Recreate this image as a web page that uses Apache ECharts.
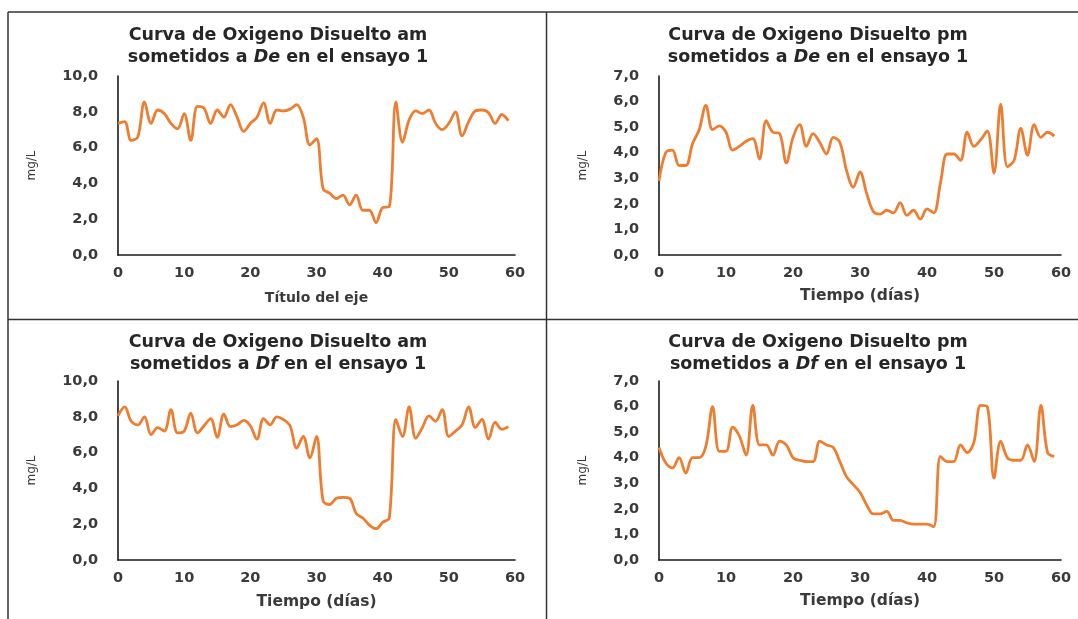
<!DOCTYPE html>
<html>
<head>
<meta charset="utf-8">
<script src="https://cdn.jsdelivr.net/npm/echarts@6/dist/echarts.min.js"></script>
<style>
html,body{margin:0;padding:0;background:#fff;}
#c{width:1078px;height:619px;}
</style>
</head>
<body>
<div id="c"></div>
<script>
// Days (x values)
const days = [0,1,2,3,4,5,6,7,8,9,10,11,12,13,14,15,16,17,18,19,20,21,22,23,24,25,26,27,28,29,
  30,31,32,33,34,35,36,37,38,39,40,41,42,43,44,45,46,47,48,49,50,51,52,53,54,55,56,57,58,59];

// am, De
const amDe = [7.35,7.45,6.4,6.6,8.55,7.35,8.1,7.9,7.35,7.05,7.9,6.4,8.3,8.2,7.35,8.1,7.7,8.4,7.7,6.9,
  7.35,7.7,8.5,7.35,8.1,8.05,8.15,8.4,7.7,6.15,6.5,3.7,3.45,3.15,3.35,2.8,3.35,2.5,2.5,1.8,
  2.65,2.7,8.55,6.3,7.55,8.05,7.9,8.1,7.35,7.0,7.35,8.0,6.65,7.45,8.05,8.1,7.95,7.35,7.85,7.5];

// pm, De
const pmDe = [2.9,4.0,4.1,3.5,3.5,4.35,4.9,5.85,4.9,5.05,4.8,4.1,4.25,4.45,4.55,3.75,5.25,4.8,4.75,3.6,
  4.6,5.1,4.25,4.75,4.4,3.95,4.6,4.4,3.3,2.65,3.25,2.4,1.7,1.6,1.75,1.65,2.05,1.55,1.75,1.4,
  1.8,1.65,2.8,3.95,3.95,3.7,4.8,4.25,4.5,4.85,3.2,5.9,3.45,3.7,4.95,3.9,5.1,4.6,4.8,4.65];

// am, Df
const amDf = [8.05,8.55,7.75,7.55,8.0,7.0,7.4,7.2,8.4,7.1,7.2,8.2,7.1,7.5,7.9,6.85,8.15,7.45,7.55,7.8,
  7.5,6.75,7.9,7.55,8.0,7.85,7.5,6.25,6.9,5.7,6.9,3.3,3.1,3.45,3.5,3.45,2.6,2.35,1.95,1.75,
  2.1,2.35,7.85,6.9,8.55,6.8,7.4,8.05,7.75,8.4,6.9,7.2,7.55,8.55,7.4,7.85,6.75,7.7,7.3,7.45];

// pm, Df
const pmDf = [4.4,3.8,3.6,4.0,3.4,4.0,4.0,4.45,6.0,4.25,4.25,5.2,4.85,4.1,6.05,4.5,4.5,4.1,4.65,4.5,
  4.0,3.9,3.85,3.85,4.65,4.5,4.4,3.85,3.25,2.95,2.65,2.15,1.8,1.8,1.9,1.55,1.55,1.45,1.4,1.4,
  1.4,1.3,4.05,3.85,3.85,4.5,4.2,4.6,6.05,6.0,3.2,4.65,4.0,3.9,3.9,4.5,3.85,6.05,4.2,4.05];

const xTicks = {min:0, max:60, interval:10};
const yAmTicks = {min:0, max:10, interval:2};
const yPmTicks = {min:0, max:7, interval:1};

const titlesLine1 = ['Curva de Oxigeno Disuelto am','Curva de Oxigeno Disuelto pm','Curva de Oxigeno Disuelto am','Curva de Oxigeno Disuelto pm'];
const titlesItalic = ['De','De','Df','Df'];
const xNames = ['Título del eje','Tiempo (días)','Tiempo (días)','Tiempo (días)'];
const yName = 'mg/L';

const seriesData = [amDe, pmDe, amDf, pmDf];
const yScales = [yAmTicks, yPmTicks, yAmTicks, yPmTicks];

const grids = [
  {left:118, top:76, width:397, height:179},
  {left:659, top:76, width:402, height:179},
  {left:118, top:381, width:397, height:179},
  {left:659, top:381, width:402, height:179}
];
const titlePos = [
  {cx:278, top:24},
  {cx:818, top:24},
  {cx:278, top:331},
  {cx:818, top:331}
];
const yNameGap = [80, 70, 80, 70];
const xNameGap = [36, 33, 34, 33];
const xNameSize = [14, 15.5, 15.5, 15.5];

const labelColor = '#3a3a3a';
const fontFam = '"DejaVu Sans", "Noto Sans", sans-serif';

const chart = echarts.init(document.getElementById('c'), null, {renderer:'canvas'});

const option = {
  animation:false,
  backgroundColor:'#fff',
  title: titlesLine1.map((t,i)=>({
    text: '{b|' + t + '}\n{b|sometidos a }{i|' + titlesItalic[i] + '}{b| en el ensayo 1}',
    left: titlePos[i].cx,
    top: titlePos[i].top,
    textAlign:'center',
    padding:0,
    textStyle:{
      rich:{
        b:{fontFamily:fontFam, fontWeight:'bold', fontSize:17.5, color:'#262626', lineHeight:22},
        i:{fontFamily:fontFam, fontWeight:'bold', fontStyle:'italic', fontSize:17.5, color:'#262626', lineHeight:22}
      }
    }
  })),
  grid: grids,
  xAxis: grids.map((g,i)=>({
    type:'value', gridIndex:i,
    min:xTicks.min, max:xTicks.max, interval:xTicks.interval,
    name:xNames[i], nameLocation:'middle', nameGap:xNameGap[i],
    nameTextStyle:{fontFamily:fontFam, fontWeight:'bold', fontSize:xNameSize[i], color:labelColor},
    axisLine:{show:true, onZero:false, lineStyle:{color:'#1a1a1a', width:1.6}},
    axisTick:{show:false},
    splitLine:{show:false},
    axisLabel:{fontFamily:fontFam, fontWeight:'bold', fontSize:14.5, color:labelColor, margin:11}
  })),
  yAxis: grids.map((g,i)=>({
    type:'value', gridIndex:i,
    min:yScales[i].min, max:yScales[i].max, interval:yScales[i].interval,
    name:yName, nameLocation:'middle', nameGap:yNameGap[i], nameRotate:90,
    nameTextStyle:{fontFamily:fontFam, fontSize:12, color:labelColor},
    axisLine:{show:true, lineStyle:{color:'#1a1a1a', width:1.6}},
    axisTick:{show:false},
    splitLine:{show:false},
    axisLabel:{fontFamily:fontFam, fontWeight:'bold', fontSize:14.5, color:labelColor, margin:20,
      formatter:v=>v.toFixed(1).replace('.',',')}
  })),
  series: seriesData.map((d,i)=>({
    type:'line', xAxisIndex:i, yAxisIndex:i,
    data: days.map((x,k)=>[x,d[k]]),
    smooth:0.35, symbol:'none',
    lineStyle:{color:'#ED7D31', width:2.8}
  })),
  graphic:[
    {type:'line', shape:{x1:8,y1:12,x2:1078,y2:12}, style:{stroke:'#333',lineWidth:1.5}},
    {type:'line', shape:{x1:8,y1:12,x2:8,y2:619}, style:{stroke:'#333',lineWidth:1.5}},
    {type:'line', shape:{x1:546.5,y1:12,x2:546.5,y2:619}, style:{stroke:'#333',lineWidth:1.5}},
    {type:'line', shape:{x1:8,y1:319.5,x2:1078,y2:319.5}, style:{stroke:'#333',lineWidth:1.5}}
  ]
};
chart.setOption(option);
</script>
</body>
</html>
